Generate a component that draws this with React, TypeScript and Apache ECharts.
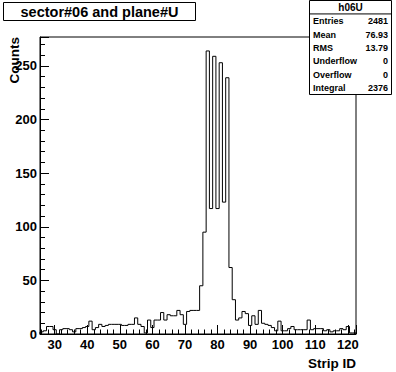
import { useEffect, useRef } from 'react';
import * as echarts from 'echarts';

// ---- data ----
const stripIds = [
  26, 27, 28, 29, 30, 31, 32, 33, 34, 35, 36, 37, 38, 39, 40, 41, 42, 43, 44, 45,
  46, 47, 48, 49, 50, 51, 52, 53, 54, 55, 56, 57, 58, 59, 60, 61, 62, 63, 64, 65,
  66, 67, 68, 69, 70, 71, 72, 73, 74, 75, 76, 77, 78, 79, 80, 81, 82, 83, 84, 85,
  86, 87, 88, 89, 90, 91, 92, 93, 94, 95, 96, 97, 98, 99, 100, 101, 102, 103, 104, 105,
  106, 107, 108, 109, 110, 111, 112, 113, 114, 115, 116, 117, 118, 119, 120, 121, 122,
];
const counts = [
  2, 3, 7, 7, 4, 0, 4, 5, 5, 4, 2, 5, 5, 6, 7, 12, 4, 6, 9, 7,
  8, 9, 9, 9, 9, 8, 8, 9, 9, 15, 9, 7, 1, 13, 6, 13, 13, 20, 13, 18,
  17, 17, 22, 18, 9, 21, 22, 22, 22, 45, 95, 264, 117, 259, 117, 253, 123, 239, 62, 32,
  13, 15, 21, 19, 8, 17, 9, 22, 10, 9, 8, 6, 3, 12, 3, 3, 5, 7, 4, 4,
  4, 4, 13, 4, 5, 5, 5, 3, 4, 2, 3, 3, 5, 4, 7, 1, 1,
];
const xTickLabels = [30, 40, 50, 60, 70, 80, 90, 100, 110, 120];
const yTickLabels = [0, 50, 100, 150, 200, 250];
const statsNames = ['Entries', 'Mean', 'RMS', 'Underflow', 'Overflow', 'Integral'];
const statsValues = ['2481', '76.93', '13.79', '0', '0', '2376'];
const histName = 'h06U';
const titleText = 'sector#06 and plane#U';
const xTitle = 'Strip ID';
const yTitle = 'Counts';
const binWidth = 1;
const xRange = [25.5, 122.5];
const yRange = [0, 277];

const FONT = "'Liberation Sans', Arial, Helvetica, sans-serif";

function buildSteps(): [number, number][] {
  const pts: [number, number][] = [];
  const half = binWidth / 2;
  pts.push([stripIds[0] - half, 0]);
  stripIds.forEach((s, i) => {
    pts.push([s - half, counts[i]]);
    pts.push([s + half, counts[i]]);
  });
  pts.push([stripIds[stripIds.length - 1] + half, 0]);
  return pts;
}

export default function App() {
  const ref = useRef<HTMLDivElement>(null);
  useEffect(() => {
    document.body.style.margin = '0';
    if (!ref.current) return;
    const chart = echarts.init(ref.current, undefined, { renderer: 'svg' });

    const gridLeft = 40;
    const gridTop = 37;
    const gridW = 316;
    const gridH = 297;

    const boxX = 309.5;
    const boxY = 0.5;
    const boxW = 82;
    const boxH = 94;
    const rowH = boxH / 7;

    const statsEls: any[] = [
      {
        type: 'rect',
        z: 100,
        shape: { x: boxX, y: boxY, width: boxW, height: boxH },
        style: { fill: '#fff', stroke: '#000', lineWidth: 1 },
      },
      {
        type: 'line',
        z: 101,
        shape: { x1: boxX, y1: boxY + rowH, x2: boxX + boxW, y2: boxY + rowH },
        style: { stroke: '#000', lineWidth: 1 },
      },
      {
        type: 'text',
        z: 101,
        x: boxX + boxW / 2,
        y: boxY + rowH / 2 + 0.5,
        style: {
          text: histName,
          align: 'center',
          verticalAlign: 'middle',
          font: `bold 10px ${FONT}`,
          fill: '#000',
        },
      },
    ];
    statsNames.forEach((n, i) => {
      const cy = boxY + rowH * (i + 1.5) + 0.5;
      statsEls.push({
        type: 'text',
        z: 101,
        x: boxX + 3.5,
        y: cy,
        style: { text: n, align: 'left', verticalAlign: 'middle', font: `bold 9px ${FONT}`, fill: '#000' },
      });
      statsEls.push({
        type: 'text',
        z: 101,
        x: boxX + boxW - 3.5,
        y: cy,
        style: { text: statsValues[i], align: 'right', verticalAlign: 'middle', font: `bold 9px ${FONT}`, fill: '#000' },
      });
    });

    chart.setOption({
      animation: false,
      backgroundColor: '#fff',
      grid: {
        left: gridLeft,
        top: gridTop,
        width: gridW,
        height: gridH,
        show: true,
        borderColor: '#000',
        borderWidth: 1,
        backgroundColor: 'transparent',
        containLabel: false,
      },
      xAxis: {
        type: 'value',
        min: xRange[0],
        max: xRange[1],
        splitNumber: 10,
        minInterval: 10,
        maxInterval: 10,
        axisLine: { show: true, lineStyle: { color: '#000', width: 1 } },
        axisTick: { show: true, inside: true, length: 9, lineStyle: { color: '#000', width: 1 } },
        minorTick: { show: true, splitNumber: 5, length: 4.5, lineStyle: { color: '#000', width: 1 } },
        splitLine: { show: false },
        minorSplitLine: { show: false },
        axisLabel: {
          show: true,
          margin: 4,
          color: '#000',
          fontFamily: FONT,
          fontWeight: 'bold',
          fontSize: 13,
          formatter: (v: number) => {
            const r = Math.round(v * 1000) / 1000;
            return xTickLabels.includes(r) ? String(r) : '';
          },
        },
      },
      yAxis: {
        type: 'value',
        min: yRange[0],
        max: yRange[1],
        interval: 50,
        axisLine: { show: true, lineStyle: { color: '#000', width: 1 } },
        axisTick: { show: true, inside: true, length: 9, lineStyle: { color: '#000', width: 1 } },
        minorTick: { show: true, splitNumber: 5, length: 5, lineStyle: { color: '#000', width: 1 } },
        splitLine: { show: false },
        minorSplitLine: { show: false },
        axisLabel: {
          show: true,
          margin: 3,
          color: '#000',
          fontFamily: FONT,
          fontWeight: 'bold',
          fontSize: 13,
          formatter: (v: number) => {
            const r = Math.round(v * 1000) / 1000;
            return yTickLabels.includes(r) ? String(r) : '';
          },
        },
      },
      series: [
        {
          type: 'line',
          data: buildSteps(),
          symbol: 'none',
          clip: true,
          lineStyle: { color: '#000', width: 1 },
          z: 5,
        },
      ],
      graphic: [
        {
          type: 'rect',
          z: 100,
          shape: { x: 3.5, y: 2.5, width: 192, height: 18 },
          style: { fill: '#fff', stroke: '#000', lineWidth: 1 },
        },
        {
          type: 'text',
          z: 101,
          x: 99.5,
          y: 12,
          style: {
            text: titleText,
            align: 'center',
            verticalAlign: 'middle',
            font: `bold 14.5px ${FONT}`,
            fill: '#000',
          },
        },
        {
          type: 'text',
          z: 101,
          x: 14,
          y: 37,
          rotation: Math.PI / 2,
          style: {
            text: yTitle,
            align: 'right',
            verticalAlign: 'middle',
            font: `bold 13.5px ${FONT}`,
            fill: '#000',
          },
        },
        {
          type: 'text',
          z: 101,
          x: 356,
          y: 363,
          style: {
            text: xTitle,
            align: 'right',
            verticalAlign: 'middle',
            font: `bold 13.5px ${FONT}`,
            fill: '#000',
          },
        },
        ...statsEls,
      ],
    });
    return () => chart.dispose();
  }, []);
  return <div ref={ref} style={{ width: 396, height: 372 }} />;
}
